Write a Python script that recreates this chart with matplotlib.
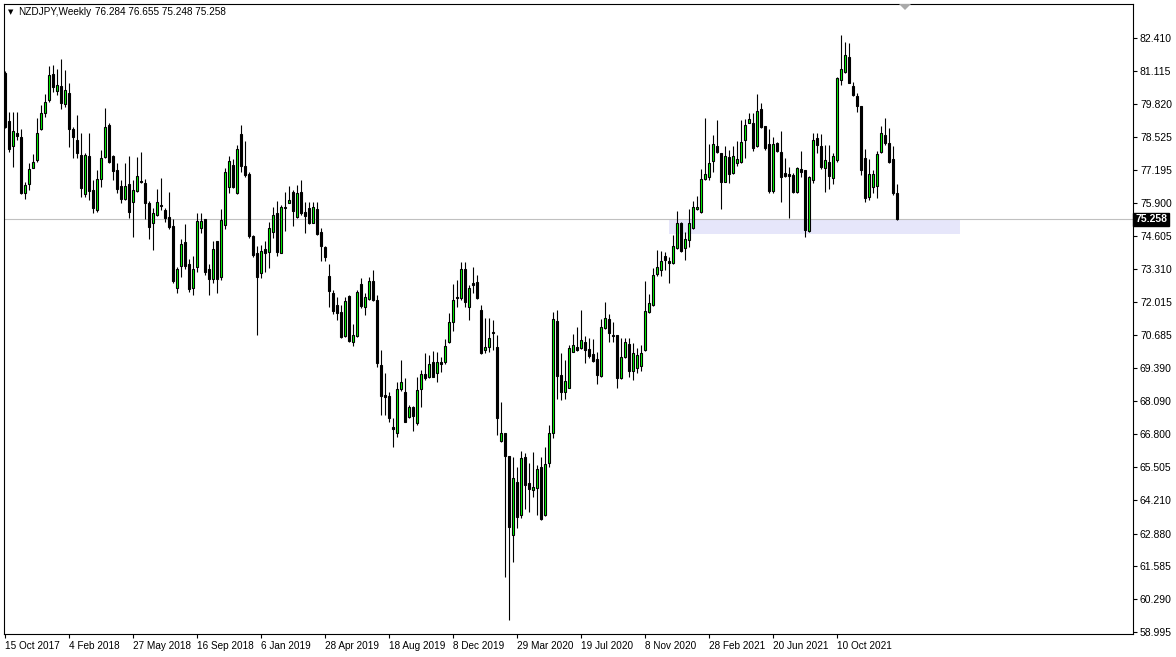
import numpy as np
import pandas as pd
import matplotlib
matplotlib.use("Agg")
import matplotlib.pyplot as plt
import matplotlib.dates as mdates
from matplotlib.patches import Rectangle, Polygon

# ---------------- data ----------------
symbol_label = "NZDJPY,Weekly"
ohlc_label = "76.284 76.655 75.248 75.258"
start_week = "2017-10-15"

opens = [81.02, 79.15, 78.17, 78.68, 78.50, 76.32, 76.65, 77.30, 77.60, 78.84,
         79.47, 79.96, 81.00, 80.34, 80.52, 79.80, 80.23, 78.84, 78.39, 77.80,
         76.25, 77.76, 76.42, 75.63, 76.84, 77.73, 78.98, 77.76, 77.21, 76.58,
         76.08, 76.65, 75.96, 76.39, 76.77, 76.68, 75.92, 75.10, 75.45, 75.81,
         75.63, 75.34, 75.00, 72.54, 73.42, 74.36, 73.49, 72.54, 73.37, 74.91,
         75.26, 73.29, 72.90, 74.42, 72.98, 75.04, 76.55, 77.40, 76.29, 78.63,
         77.37, 77.05, 74.60, 73.95, 73.14, 74.08, 73.99, 74.78, 75.50, 73.95,
         75.74, 75.92, 76.35, 75.34, 76.35, 75.56, 75.70, 75.13, 75.66, 74.78,
         74.16, 73.03, 72.35, 71.89, 71.62, 70.66, 72.24, 70.44, 70.66, 72.71,
         71.82, 72.11, 72.83, 72.08, 69.52, 68.34, 68.30, 67.06, 66.83, 68.56,
         68.47, 67.46, 67.85, 67.22, 68.56, 69.15, 69.03, 69.65, 69.19, 69.65,
         69.65, 70.44, 71.23, 72.21, 72.17, 73.30, 71.82, 72.74, 72.78, 71.69,
         70.11, 70.24, 70.81, 70.24, 66.54, 66.85, 65.93, 62.82, 64.92, 63.61,
         65.88, 64.88, 64.59, 64.66, 65.49, 63.61, 65.67, 66.85, 71.27, 69.13,
         68.45, 68.63, 70.05, 70.24, 70.18, 70.41, 70.15, 69.94, 69.76, 69.10,
         70.97, 71.33, 70.70, 70.70, 68.99, 69.85, 70.34, 69.30, 69.40, 69.50,
         70.11, 71.62, 71.89, 73.11, 73.26, 73.82, 73.62, 73.53, 74.12, 75.13,
         74.12, 74.45, 74.91, 75.66, 75.56, 76.84, 76.94, 77.57, 78.15, 77.86,
         76.75, 77.71, 77.08, 77.47, 77.54, 78.39, 79.07, 79.07, 78.15, 79.60,
         78.94, 78.23, 76.39, 78.28, 77.93, 77.07, 77.04, 77.01, 76.35, 77.23,
         77.21, 74.81, 76.81, 78.45, 78.15, 77.27, 77.52, 76.88, 77.60, 80.75,
         81.08, 81.65, 80.52, 80.12, 79.73, 77.67, 76.15, 76.55, 76.58, 77.93,
         78.59, 78.26, 77.63, 76.284]
highs = [81.09, 79.51, 79.51, 79.51, 78.84, 76.74, 77.50, 77.84, 79.26, 79.77,
         80.21, 81.32, 81.35, 81.18, 81.57, 81.15, 80.63, 78.90, 79.37, 78.65,
         77.86, 78.68, 76.81, 77.21, 78.00, 79.64, 79.05, 77.80, 77.47, 76.81,
         77.47, 77.76, 76.81, 77.71, 77.93, 76.84, 76.00, 75.70, 76.45, 76.88,
         75.70, 76.35, 75.26, 73.40, 74.49, 75.08, 73.69, 73.82, 75.53, 75.53,
         75.26, 73.50, 74.42, 74.42, 75.66, 77.30, 77.76, 77.63, 78.19, 78.98,
         78.36, 77.14, 74.64, 74.21, 74.25, 74.42, 75.17, 75.74, 76.00, 75.83,
         76.35, 76.58, 76.42, 76.62, 76.81, 75.96, 75.96, 75.96, 75.96, 74.91,
         74.21, 73.50, 72.48, 72.21, 71.89, 72.21, 72.28, 71.14, 72.48, 72.94,
         72.37, 73.00, 73.27, 72.28, 70.11, 69.19, 68.47, 67.42, 68.86, 69.72,
         68.99, 67.94, 67.90, 69.06, 69.32, 69.98, 69.92, 70.09, 70.05, 69.85,
         70.53, 71.56, 72.70, 72.87, 73.59, 73.57, 72.67, 73.40, 73.07, 71.89,
         71.36, 71.36, 71.30, 70.70, 68.07, 66.85, 65.93, 65.91, 65.51, 66.14,
         66.07, 65.64, 66.10, 65.58, 65.91, 66.30, 67.16, 71.62, 71.69, 69.98,
         69.72, 70.31, 70.73, 71.03, 71.69, 70.68, 70.60, 70.55, 70.02, 71.33,
         71.99, 71.52, 71.23, 70.70, 70.57, 70.57, 70.57, 70.37, 70.20, 70.30,
         72.84, 72.34, 73.33, 74.05, 74.03, 73.99, 73.79, 74.64, 75.60, 75.17,
         74.78, 75.66, 76.00, 76.18, 77.23, 79.24, 78.23, 78.59, 79.18, 77.89,
         78.15, 77.99, 78.15, 78.36, 79.18, 79.20, 79.44, 79.44, 80.20, 79.83,
         78.94, 78.81, 78.52, 78.32, 78.76, 77.67, 77.34, 77.07, 77.31, 77.97,
         77.21, 76.97, 78.65, 78.65, 78.63, 78.19, 78.19, 77.89, 80.86, 82.53,
         82.27, 82.23, 80.69, 80.23, 79.73, 78.02, 77.63, 77.21, 77.97, 78.94,
         79.24, 78.85, 78.15, 76.655]
lows = [78.85, 77.93, 77.34, 78.39, 76.26, 76.07, 76.42, 77.27, 77.54, 78.79,
        79.31, 79.90, 80.30, 80.17, 79.60, 79.71, 78.10, 77.67, 77.67, 76.16,
        76.16, 76.02, 75.53, 75.56, 76.52, 77.67, 77.47, 76.81, 76.29, 75.89,
        76.02, 75.30, 74.58, 76.35, 76.68, 75.26, 74.50, 74.05, 75.39, 75.63,
        75.17, 74.87, 72.74, 72.37, 72.98, 73.29, 72.41, 72.28, 73.20, 74.74,
        73.07, 72.28, 72.74, 72.37, 72.87, 74.90, 76.29, 76.48, 76.26, 77.14,
        76.94, 74.51, 73.79, 70.70, 72.94, 73.20, 73.33, 74.51, 73.82, 73.92,
        74.82, 75.89, 75.00, 75.30, 75.43, 74.74, 75.08, 75.10, 74.64, 73.63,
        73.63, 71.79, 71.53, 71.29, 70.57, 70.64, 70.44, 70.27, 70.64, 71.75,
        71.49, 72.08, 72.06, 69.46, 67.55, 67.55, 67.29, 66.30, 66.67, 68.51,
        67.29, 67.42, 66.93, 67.16, 67.85, 68.93, 68.99, 69.03, 68.86, 69.26,
        69.56, 70.37, 70.86, 71.82, 72.08, 71.82, 71.30, 72.35, 72.12, 69.95,
        69.98, 70.02, 70.11, 66.76, 66.50, 61.15, 59.49, 61.77, 63.08, 63.48,
        63.83, 63.74, 64.30, 63.61, 63.41, 63.57, 65.49, 66.63, 68.17, 68.15,
        68.20, 68.60, 70.02, 70.07, 70.15, 69.59, 69.78, 69.63, 68.76, 69.06,
        70.94, 70.41, 70.41, 68.63, 68.97, 69.78, 69.05, 68.95, 69.20, 69.30,
        70.08, 71.56, 71.85, 73.03, 73.03, 73.27, 72.74, 73.50, 74.08, 73.99,
        73.66, 74.16, 74.87, 75.63, 75.52, 76.81, 76.80, 77.14, 77.89, 75.66,
        76.75, 76.68, 77.05, 77.36, 77.50, 77.67, 79.05, 77.97, 78.13, 78.85,
        77.99, 76.29, 76.29, 77.93, 75.96, 76.94, 75.30, 76.31, 76.31, 76.94,
        74.58, 74.77, 76.71, 77.86, 77.23, 76.35, 76.44, 76.65, 77.53, 80.56,
        81.04, 80.62, 80.12, 79.51, 77.01, 75.96, 76.02, 76.29, 76.09, 77.89,
        78.19, 77.47, 76.22, 75.248]
closes = [78.92, 78.05, 78.75, 78.55, 76.32, 76.63, 77.25, 77.51, 78.66, 79.44,
          79.88, 80.97, 80.47, 80.56, 79.84, 80.36, 78.84, 78.50, 77.86, 76.48,
          77.80, 76.39, 75.70, 76.84, 77.67, 78.89, 77.54, 77.18, 76.45, 76.08,
          76.58, 75.56, 76.42, 76.97, 76.72, 75.92, 74.95, 75.50, 75.93, 75.79,
          75.30, 74.97, 72.84, 73.29, 74.28, 73.42, 72.50, 73.29, 75.20, 75.20,
          73.20, 72.90, 74.08, 72.90, 75.24, 77.14, 77.57, 76.55, 78.02, 77.37,
          77.01, 74.60, 73.86, 72.98, 74.03, 73.95, 74.91, 75.43, 73.99, 75.74,
          75.71, 76.03, 75.60, 76.31, 75.52, 75.39, 75.13, 75.74, 74.68, 74.21,
          73.76, 72.45, 71.66, 71.56, 70.64, 72.04, 70.48, 70.70, 72.38, 71.85,
          72.19, 72.83, 72.08, 69.61, 68.30, 68.27, 67.42, 66.98, 68.56, 68.86,
          67.29, 67.85, 67.51, 68.54, 69.15, 68.99, 69.55, 69.06, 69.63, 69.55,
          70.27, 71.23, 72.08, 72.15, 73.30, 72.02, 72.54, 72.67, 72.15, 69.98,
          70.24, 70.60, 70.78, 67.44, 66.85, 65.93, 63.12, 65.05, 63.54, 65.84,
          64.79, 64.62, 64.72, 65.41, 63.44, 65.62, 66.85, 71.32, 69.09, 68.45,
          68.89, 70.20, 70.31, 70.11, 70.51, 70.11, 69.89, 69.68, 69.13, 71.03,
          71.39, 70.77, 70.65, 69.02, 69.85, 70.41, 69.30, 70.00, 69.91, 70.00,
          71.65, 71.95, 73.07, 73.37, 73.63, 73.66, 73.53, 74.21, 75.13, 74.03,
          74.47, 75.13, 75.76, 75.74, 76.84, 77.04, 77.50, 78.22, 77.93, 76.75,
          77.76, 77.04, 77.76, 77.63, 78.32, 78.98, 79.20, 78.06, 79.55, 78.91,
          78.06, 76.39, 78.23, 77.97, 76.94, 76.97, 76.98, 76.35, 77.27, 77.14,
          74.84, 76.94, 78.39, 78.19, 77.31, 77.60, 76.97, 77.76, 80.82, 81.17,
          81.74, 80.65, 80.16, 79.73, 77.21, 76.09, 77.05, 77.05, 77.84, 78.68,
          78.26, 77.53, 76.29, 75.258]

price_ticks = [82.410, 81.115, 79.820, 78.525, 77.195, 75.900, 74.605, 73.310,
               72.015, 70.685, 69.390, 68.090, 66.800, 65.505, 64.210, 62.880,
               61.585, 60.290, 58.995]
date_ticks = ["2017-10-15", "2018-02-04", "2018-05-27", "2018-09-16", "2019-01-06",
              "2019-04-28", "2019-08-18", "2019-12-08", "2020-03-29", "2020-07-19",
              "2020-11-08", "2021-02-28", "2021-06-20", "2021-10-10"]
date_tick_labels = ["15 Oct 2017", "4 Feb 2018", "27 May 2018", "16 Sep 2018",
                    "6 Jan 2019", "28 Apr 2019", "18 Aug 2019", "8 Dec 2019",
                    "29 Mar 2020", "19 Jul 2020", "8 Nov 2020", "28 Feb 2021",
                    "20 Jun 2021", "10 Oct 2021"]
last_price = 75.258
zone_dates = ["2020-12-20", "2022-05-13"]
zone_prices = [74.68, 75.27]

# ---------------- figure ----------------
plt.rcParams["font.family"] = ["Liberation Sans", "DejaVu Sans"]
W, H = 1176, 657
fig = plt.figure(figsize=(W / 100, H / 100), dpi=100)
fig.patch.set_facecolor("white")
L, R, T, B = 4, 1133, 4, 634
ax = fig.add_axes([L / W, (H - B) / H, (R - L) / W, (B - T) / H])
ax.set_facecolor("white")

dates = pd.date_range(start_week, periods=len(opens), freq="7D")
x = mdates.date2num(dates)
o = np.array(opens); h = np.array(highs); l = np.array(lows); c = np.array(closes)
week = 7.0
px = week / 4.0  # one bar every 4 pixels

# support zone
z0, z1 = mdates.date2num(pd.to_datetime(zone_dates))
ax.add_patch(Rectangle((z0, zone_prices[0]), z1 - z0, zone_prices[1] - zone_prices[0],
                       facecolor="#E6E6FA", edgecolor="none", zorder=0.5))
# bid line
ax.axhline(last_price, color="#C0C0C0", lw=0.8, zorder=1)

# candles
ax.vlines(x, l, h, color="black", lw=0.8, zorder=2)
bull = c >= o
fills = np.where(bull, "#00FF00", "black")
ax.bar(x, np.abs(c - o), bottom=np.minimum(o, c), width=2 * px, color=fills,
       edgecolor="black", linewidth=0.8, zorder=3)

ax.set_xlim(x[0] - 0.25 * week, x[0] + 282 * week)
ax.set_ylim(58.92, 83.75)

# axes styling
for s in ax.spines.values():
    s.set_color("black")
    s.set_linewidth(0.8)
ax.yaxis.tick_right()
ax.set_yticks(price_ticks)
ax.set_yticklabels([f"{p:.3f}" for p in price_ticks])
ax.tick_params(axis="y", direction="out", length=3, width=0.8, pad=2,
               labelsize=7.5, colors="black")
ax.set_xticks(mdates.date2num(pd.to_datetime(date_ticks)))
ax.set_xticklabels(date_tick_labels)
for t in ax.get_xticklabels():
    t.set_ha("left")
ax.tick_params(axis="x", direction="out", length=3, width=0.8, pad=2,
               labelsize=7.2, colors="black")

# current price label on the axis
ax.text(1.0 + 2 / (R - L), last_price, f"{last_price:.3f}",
        transform=ax.get_yaxis_transform(), ha="left", va="center",
        fontsize=7.5, color="white", fontweight="bold",
        bbox=dict(boxstyle="square,pad=0.15", facecolor="black", edgecolor="black"),
        zorder=10, clip_on=False)

# header
fig.text(8 / W, 1 - 12 / H, "\u25BC", fontsize=5, ha="left", va="center", color="black",
         family="DejaVu Sans")
fig.text(18 / W, 1 - 12 / H, symbol_label, fontsize=7.2, ha="left", va="center", color="black")
fig.text(95 / W, 1 - 12 / H, ohlc_label, fontsize=7.2, ha="left", va="center", color="black")

# chart shift marker
fig.patches.append(Polygon([[899 / W, 1 - 4 / H], [911 / W, 1 - 4 / H], [905 / W, 1 - 10 / H]],
                           closed=True, transform=fig.transFigure,
                           facecolor="#A9A9A9", edgecolor="none"))

fig.savefig("out.png", dpi=100, facecolor="white")
